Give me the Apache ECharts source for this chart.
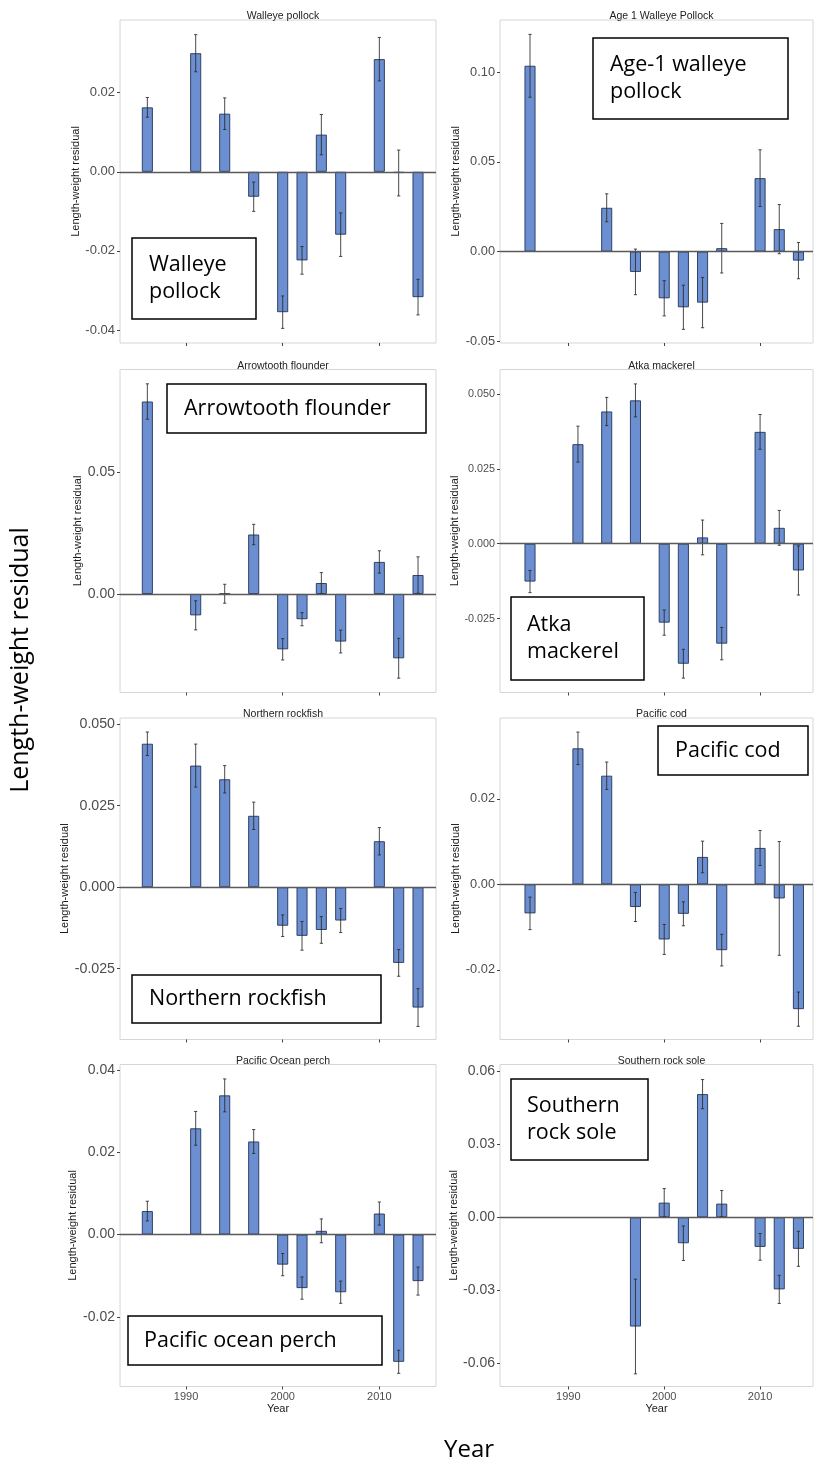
<!DOCTYPE html>
<html>
<head>
<meta charset="utf-8">
<script src="https://cdn.jsdelivr.net/npm/echarts@6/dist/echarts.min.js"></script>
<style>
  html, body { margin: 0; padding: 0; background: #ffffff; }
  #chart { width: 814px; height: 1465px; }
</style>
</head>
<body>
<div id="chart"></div>
<script>
// Survey years (Aleutian Islands bottom trawl survey)
const years = [1986, 1991, 1994, 1997, 2000, 2002, 2004, 2006, 2010, 2012, 2014];
const xTickYears = [1990, 2000, 2010];

// Mean length-weight residuals and standard errors by species
const walleye     = [0.0163, 0.0300, 0.0147, -0.0063, -0.0355, -0.0224, 0.0094, -0.0159, 0.0285, -0.0003, -0.0317];
const walleyeSE   = [0.0025, 0.0047, 0.0040, 0.0037, 0.0041, 0.0035, 0.0051, 0.0055, 0.0055, 0.0058, 0.0045];

const age1        = [0.1035, null, 0.0244, -0.0113, -0.0260, -0.0310, -0.0284, 0.0019, 0.0409, 0.0125, -0.0050];
const age1SE      = [0.0175, null, 0.0078, 0.0127, 0.0098, 0.0123, 0.0140, 0.0138, 0.0158, 0.0137, 0.0101];

const arrowtooth   = [0.0793, -0.0088, 0.0001, 0.0245, -0.0228, -0.0104, 0.0045, -0.0196, 0.0132, -0.0265, 0.0078];
const arrowtoothSE = [0.0073, 0.0060, 0.0039, 0.0042, 0.0044, 0.0027, 0.0043, 0.0047, 0.0046, 0.0082, 0.0075];

const atka        = [-0.0126, 0.0332, 0.0441, 0.0478, -0.0263, -0.0400, 0.0021, -0.0333, 0.0373, 0.0053, -0.0089];
const atkaSE      = [0.0037, 0.0060, 0.0047, 0.0055, 0.0042, 0.0048, 0.0058, 0.0054, 0.0058, 0.0058, 0.0082];

const northern    = [0.0440, 0.0373, 0.0331, 0.0219, -0.0118, -0.0149, -0.0131, -0.0102, 0.0141, -0.0232, -0.0369];
const northernSE  = [0.0036, 0.0066, 0.0042, 0.0042, 0.0033, 0.0044, 0.0041, 0.0037, 0.0042, 0.0041, 0.0058];

const cod         = [-0.0068, 0.0318, 0.0254, -0.0053, -0.0129, -0.0069, 0.0064, -0.0154, 0.0085, -0.0033, -0.0292];
const codSE       = [0.0038, 0.0038, 0.0032, 0.0034, 0.0035, 0.0028, 0.0037, 0.0037, 0.0041, 0.0133, 0.0040];

const pop         = [0.0057, 0.0258, 0.0338, 0.0226, -0.0073, -0.0130, 0.0009, -0.0140, 0.0051, -0.0309, -0.0113];
const popSE       = [0.0024, 0.0041, 0.0040, 0.0029, 0.0027, 0.0027, 0.0029, 0.0027, 0.0028, 0.0028, 0.0034];

const southern    = [null, null, null, -0.0450, 0.0060, -0.0107, 0.0507, 0.0056, -0.0122, -0.0297, -0.0130];
const southernSE  = [null, null, null, 0.0195, 0.0058, 0.0071, 0.0060, 0.0054, 0.0055, 0.0058, 0.0072];

// Y tick values per panel
const walleyeTicks    = [-0.04, -0.02, 0, 0.02];
const age1Ticks       = [-0.05, 0, 0.05, 0.10];
const arrowtoothTicks = [0, 0.05];
const atkaTicks       = [-0.025, 0, 0.025, 0.05];
const northernTicks   = [-0.025, 0, 0.025, 0.05];
const codTicks        = [-0.02, 0, 0.02];
const popTicks        = [-0.02, 0, 0.02, 0.04];
const southernTicks   = [-0.06, -0.03, 0, 0.03, 0.06];

// Y axis extents per panel
const walleyeRange    = [-0.0433, 0.0384];
const age1Range       = [-0.0509, 0.1290];
const arrowtoothRange = [-0.0406, 0.0925];
const atkaRange       = [-0.0496, 0.0581];
const northernRange   = [-0.0467, 0.0519];
const codRange        = [-0.0363, 0.0389];
const popRange        = [-0.0369, 0.0413];
const southernRange   = [-0.0697, 0.0629];

// Panel titles and boxed species labels
const panelTitles = ['Walleye pollock', 'Age 1 Walleye Pollock', 'Arrowtooth flounder', 'Atka mackerel',
                     'Northern rockfish', 'Pacific cod', 'Pacific Ocean perch', 'Southern rock sole'];
const boxLabels   = ['Walleye\npollock', 'Age-1 walleye\npollock', 'Arrowtooth flounder', 'Atka\nmackerel',
                     'Northern rockfish', 'Pacific cod', 'Pacific ocean perch', 'Southern\nrock sole'];

const panels = [
  { vals: walleye,    se: walleyeSE,    ticks: walleyeTicks,    range: walleyeRange,    dec: 2 },
  { vals: age1,       se: age1SE,       ticks: age1Ticks,       range: age1Range,       dec: 2 },
  { vals: arrowtooth, se: arrowtoothSE, ticks: arrowtoothTicks, range: arrowtoothRange, dec: 2 },
  { vals: atka,       se: atkaSE,       ticks: atkaTicks,       range: atkaRange,       dec: 3 },
  { vals: northern,   se: northernSE,   ticks: northernTicks,   range: northernRange,   dec: 3 },
  { vals: cod,        se: codSE,        ticks: codTicks,        range: codRange,        dec: 2 },
  { vals: pop,        se: popSE,        ticks: popTicks,        range: popRange,        dec: 2 },
  { vals: southern,   se: southernSE,   ticks: southernTicks,   range: southernRange,   dec: 2 }
];

// Layout: columns and rows in pixels
const cols = [
  { left: 120, width: 316, xMin: 1983.17, xMax: 2015.86 },
  { left: 500, width: 313, xMin: 1982.87, xMax: 2015.52 }
];
const rows = [
  { top: 20,     height: 323 },
  { top: 369.5,  height: 323 },
  { top: 718,    height: 321.5 },
  { top: 1064.5, height: 322 }
];
// per-panel layout tweaks: tick label size, axis-title centre x, box geometry
const layout = [
  { tickSize: 13,   nameX: 81,  box: [132, 238, 124, 81],  textX: 149 },
  { tickSize: 12.8, nameX: 463, box: [593, 38, 195, 81],   textX: 610 },
  { tickSize: 14,   nameX: 83,  box: [167, 384, 259, 49],  textX: 184 },
  { tickSize: 10.8, nameX: 457, box: [511, 597, 133, 83],  textX: 527 },
  { tickSize: 14.2, nameX: 71,  box: [132, 975, 249, 48],  textX: 149 },
  { tickSize: 12.8, nameX: 466, box: [658, 726, 150, 49],  textX: 675 },
  { tickSize: 14,   nameX: 72,  box: [128, 1316, 254, 49], textX: 144 },
  { tickSize: 14,   nameX: 465, box: [511, 1079, 137, 81], textX: 527 }
];

const BAR_FILL = '#6b8fd0';
const BAR_EDGE = '#24345a';
const SANS = '"Liberation Sans", Arial, sans-serif';
const CAL = '"Open Sans", Lato, sans-serif';

const grids = [], xAxes = [], yAxes = [], series = [], titles = [], graphics = [];

panels.forEach((p, i) => {
  const c = cols[i % 2];
  const r = rows[Math.floor(i / 2)];
  const lay = layout[i];
  const bottomRow = Math.floor(i / 2) === rows.length - 1;

  grids.push({
    left: c.left, top: r.top, width: c.width, height: r.height,
    show: true, backgroundColor: '#ffffff', borderColor: '#d6d6d6', borderWidth: 1
  });

  xAxes.push({
    type: 'value', gridIndex: i, min: c.xMin, max: c.xMax,
    axisLine: { show: false, onZero: false },
    splitLine: { show: false },
    axisTick: { show: true, inside: false, length: 3, customValues: xTickYears,
                lineStyle: { color: '#444', width: 1 } },
    axisLabel: { show: bottomRow, customValues: xTickYears, margin: 5,
                 color: '#4d4d4d', fontSize: 11, fontFamily: SANS,
                 formatter: v => String(Math.round(v)) },
    name: bottomRow ? 'Year' : '', nameLocation: 'middle', nameGap: 17,
    nameTextStyle: { color: '#1a1a1a', fontSize: 11, fontFamily: SANS }
  });

  yAxes.push({
    type: 'value', gridIndex: i, min: p.range[0], max: p.range[1],
    axisLine: { show: false, onZero: false },
    splitLine: { show: false },
    axisTick: { show: true, inside: false, length: 3, customValues: p.ticks,
                lineStyle: { color: '#444', width: 1 } },
    axisLabel: { customValues: p.ticks, margin: 5, color: '#4d4d4d',
                 fontSize: lay.tickSize, fontFamily: SANS,
                 formatter: v => Number(v).toFixed(p.dec) },
    name: 'Length-weight residual', nameLocation: 'middle',
    nameGap: c.left - lay.nameX - 6,
    nameTextStyle: { color: '#1a1a1a', fontSize: 11, fontFamily: SANS }
  });

  const barData = [], errData = [];
  years.forEach((yr, k) => {
    if (p.vals[k] === null) return;
    barData.push([yr, p.vals[k]]);
    errData.push([yr, p.vals[k] - p.se[k], p.vals[k] + p.se[k]]);
  });

  series.push({
    type: 'bar', xAxisIndex: i, yAxisIndex: i, data: barData,
    barWidth: 11, silent: true,
    itemStyle: { color: BAR_FILL, borderColor: BAR_EDGE, borderWidth: 0.9 },
    markLine: {
      silent: true, symbol: 'none', label: { show: false },
      lineStyle: { color: '#5a5a5a', width: 1.3, type: 'solid' },
      data: [{ yAxis: 0 }]
    },
    z: 2
  });

  series.push({
    type: 'custom', xAxisIndex: i, yAxisIndex: i, data: errData, silent: true,
    encode: { x: 0, y: [1, 2] },
    renderItem: (params, api) => {
      const x = api.value(0);
      const top = api.coord([x, api.value(2)]);
      const bot = api.coord([x, api.value(1)]);
      const cap = 1.6;
      const st = { stroke: '#2a2a2a', lineWidth: 1, opacity: 0.85 };
      return {
        type: 'group',
        children: [
          { type: 'line', shape: { x1: top[0], y1: top[1], x2: bot[0], y2: bot[1] }, style: st },
          { type: 'line', shape: { x1: top[0] - cap, y1: top[1], x2: top[0] + cap, y2: top[1] }, style: st },
          { type: 'line', shape: { x1: bot[0] - cap, y1: bot[1], x2: bot[0] + cap, y2: bot[1] }, style: st }
        ]
      };
    },
    z: 3
  });

  titles.push({
    text: panelTitles[i], left: c.left + c.width / 2, top: r.top - 14, textAlign: 'center',
    textStyle: { fontSize: 10.5, fontWeight: 'normal', color: '#222', fontFamily: SANS }
  });

  const b = lay.box;
  graphics.push({
    type: 'group', z: 100,
    children: [
      { type: 'rect', shape: { x: b[0], y: b[1], width: b[2], height: b[3] },
        style: { fill: '#ffffff', stroke: '#000000', lineWidth: 1.5 } },
      { type: 'text', x: lay.textX, y: b[1] + b[3] / 2,
        style: { text: boxLabels[i], fill: '#000', font: '21.5px ' + CAL,
                 verticalAlign: 'middle', align: 'left', lineHeight: 27 } }
    ]
  });
});

// Shared outer axis titles
graphics.push({
  type: 'text', x: 21, y: 660, rotation: Math.PI / 2, z: 100,
  style: { text: 'Length-weight residual', fill: '#000', font: '25px ' + CAL,
           align: 'center', verticalAlign: 'middle' }
});
graphics.push({
  type: 'text', x: 469, y: 1450, z: 100,
  style: { text: 'Year', fill: '#000', font: '24px ' + CAL,
           align: 'center', verticalAlign: 'middle' }
});

const chart = echarts.init(document.getElementById('chart'), null, { renderer: 'canvas' });
chart.setOption({
  animation: false,
  backgroundColor: '#ffffff',
  title: titles,
  grid: grids,
  xAxis: xAxes,
  yAxis: yAxes,
  series: series,
  graphic: graphics
});
</script>
</body>
</html>
